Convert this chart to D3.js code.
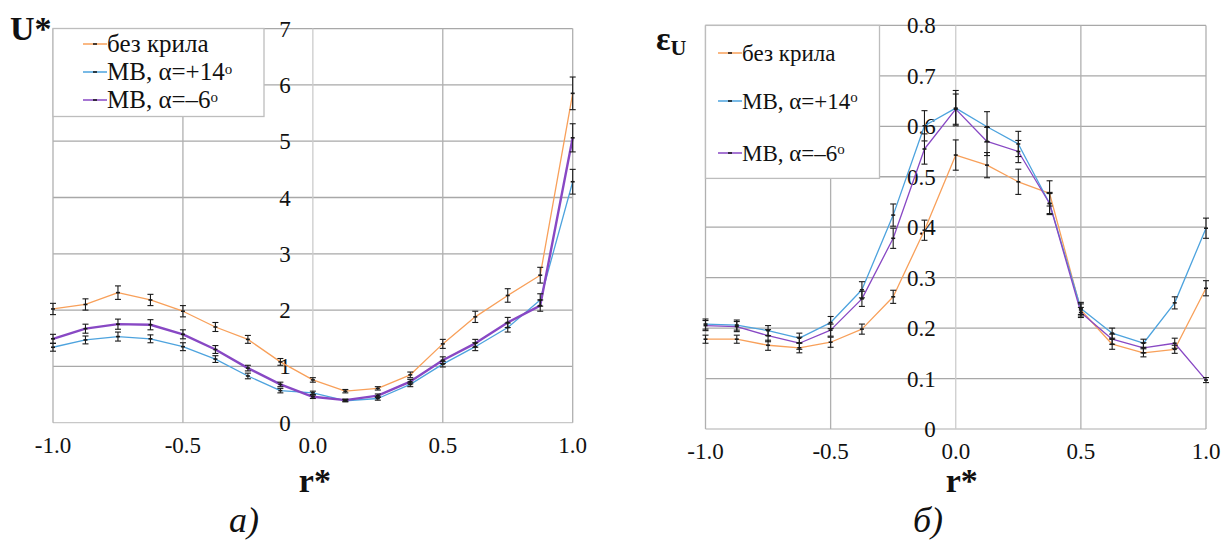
<!DOCTYPE html>
<html><head><meta charset="utf-8">
<script src="https://cdn.jsdelivr.net/npm/d3@7"></script>
<style>
html,body{margin:0;padding:0;background:#fff;}
</style></head>
<body><svg id="c" width="1223" height="541"></svg>
<script>
// ---- data ----
const rValues = [-1,-0.875,-0.75,-0.625,-0.5,-0.375,-0.25,-0.125,0,0.125,0.25,0.375,0.5,0.625,0.75,0.875,1];
const seriesNames = ["без крила","МВ, α=+14","МВ, α=–6"];
const seriesDegree = [false,true,true];
const xTickLabels = ["-1.0","-0.5","0.0","0.5","1.0"];
const xTickValues = [-1,-0.5,0,0.5,1];

// panel a) U*
const uNoWing   = [2.02,2.10,2.31,2.18,1.98,1.70,1.48,1.08,0.76,0.56,0.61,0.85,1.40,1.88,2.26,2.62,5.85];
const uMB14     = [1.34,1.47,1.53,1.49,1.35,1.13,0.83,0.57,0.53,0.39,0.43,0.68,1.04,1.35,1.69,2.18,4.28];
const uMB6      = [1.49,1.67,1.75,1.74,1.57,1.30,0.97,0.68,0.46,0.40,0.48,0.73,1.11,1.41,1.78,2.08,5.06];
const uNoWingErr= [0.10,0.10,0.12,0.10,0.10,0.08,0.07,0.06,0.04,0.03,0.03,0.05,0.08,0.10,0.12,0.14,0.29];
const uMB14Err  = [0.07,0.07,0.08,0.07,0.07,0.06,0.05,0.04,0.03,0.02,0.03,0.04,0.05,0.07,0.08,0.11,0.22];
const uMB6Err   = [0.08,0.08,0.09,0.09,0.08,0.07,0.05,0.04,0.03,0.02,0.03,0.04,0.06,0.07,0.09,0.10,0.25];
const uTicks = [0,1,2,3,4,5,6,7];

// panel б) eps_U
const eNoWing   = [0.178,0.178,0.166,0.161,0.172,0.198,0.262,0.394,0.543,0.523,0.490,0.467,0.236,0.168,0.151,0.158,0.279];
const eMB14     = [0.208,0.206,0.195,0.180,0.211,0.276,0.424,0.601,0.636,0.599,0.565,0.447,0.239,0.190,0.170,0.250,0.398];
const eMB6      = [0.205,0.203,0.185,0.170,0.196,0.258,0.378,0.555,0.634,0.570,0.550,0.447,0.231,0.178,0.161,0.170,0.097];
const eNoWingErr= [0.008,0.008,0.010,0.010,0.010,0.010,0.013,0.020,0.030,0.025,0.025,0.025,0.012,0.010,0.008,0.008,0.015];
const eMB14Err  = [0.010,0.010,0.010,0.010,0.012,0.016,0.022,0.030,0.035,0.030,0.025,0.022,0.012,0.010,0.008,0.012,0.020];
const eMB6Err   = [0.010,0.010,0.012,0.012,0.012,0.015,0.020,0.030,0.030,0.028,0.022,0.020,0.010,0.010,0.010,0.010,0.005];
const eTicks = [0,0.1,0.2,0.3,0.4,0.5,0.6,0.7,0.8];
const eTickLabels = ["0","0.1","0.2","0.3","0.4","0.5","0.6","0.7","0.8"];

const colors = ["#F8A05A","#4DA3DE","#8848C4"];
const SERIF = "'Liberation Serif', 'Times New Roman', serif";

const svg = d3.select("#c");

function panel(opt){
  const g = svg.append("g");
  const x = d3.scaleLinear().domain([-1,1]).range(opt.xr);
  const y = d3.scaleLinear().domain([opt.yTicks[0], opt.yTicks[opt.yTicks.length-1]]).range(opt.yr);
  g.selectAll(".hg").data(opt.yTicks).join("line")
    .attr("x1",x(-1)).attr("x2",x(1)).attr("y1",d=>y(d)).attr("y2",d=>y(d))
    .attr("stroke",(d,i)=>i===0?"#c8c8c8":"#a8a8a8").attr("stroke-width",1.3);
  g.selectAll(".vg").data(xTickValues).join("line")
    .attr("x1",d=>x(d)).attr("x2",d=>x(d)).attr("y1",y.range()[0]).attr("y2",y.range()[1])
    .attr("stroke",d=>d===0?"#cccccc":"#b0b0b0").attr("stroke-width",1.3);
  const lg = g.append("g");
  lg.append("rect").attr("x",opt.leg.x).attr("y",opt.leg.y).attr("width",opt.leg.w).attr("height",opt.leg.h)
    .attr("fill","#fff").attr("stroke","#bdbdbd").attr("stroke-width",1.3);
  g.selectAll(".yl").data(opt.yTicks).join("text")
    .attr("x",x(0)-opt.ylOff).attr("y",d=>y(d)).attr("dy","0.35em")
    .attr("text-anchor","end").attr("font-size",23).style("font-family",SERIF).attr("fill","#111")
    .text((d,i)=>opt.yLabels[i]);
  g.selectAll(".xl").data(xTickValues).join("text")
    .attr("x",d=>x(d)).attr("y",y.range()[0]+30)
    .attr("text-anchor","middle").attr("font-size",23).style("font-family",SERIF).attr("fill","#111")
    .text((d,i)=>xTickLabels[i]);
  const line = d3.line().x((d,i)=>x(rValues[i])).y(d=>y(d));
  opt.series.forEach((s,k)=>{
    g.append("path").datum(s).attr("d",line).attr("fill","none")
      .attr("stroke",colors[k]).attr("stroke-width",opt.widths[k]).attr("stroke-linejoin","round");
  });
  opt.series.forEach((s,k)=>{
    const err = opt.errs[k];
    const eg = g.append("g").attr("stroke","#1a1a1a").attr("stroke-width",1.1);
    s.forEach((v,i)=>{
      const cx = x(rValues[i]);
      eg.append("line").attr("x1",cx).attr("x2",cx).attr("y1",y(v-err[i])).attr("y2",y(v+err[i]));
      eg.append("line").attr("x1",cx-3).attr("x2",cx+3).attr("y1",y(v-err[i])).attr("y2",y(v-err[i]));
      eg.append("line").attr("x1",cx-3).attr("x2",cx+3).attr("y1",y(v+err[i])).attr("y2",y(v+err[i]));
      eg.append("line").attr("x1",cx-2).attr("x2",cx+2).attr("y1",y(v)).attr("y2",y(v)).attr("stroke-width",1.6);
    });
  });
  seriesNames.forEach((n,k)=>{
    const ly = opt.leg.items[k];
    lg.append("line").attr("x1",opt.leg.sx).attr("x2",opt.leg.sx+24).attr("y1",ly).attr("y2",ly)
      .attr("stroke",colors[k]).attr("stroke-width",1.5);
    lg.append("line").attr("x1",opt.leg.sx+10).attr("x2",opt.leg.sx+14).attr("y1",ly).attr("y2",ly)
      .attr("stroke","#111").attr("stroke-width",1.5);
    const t = lg.append("text").attr("x",opt.leg.sx+24).attr("y",ly).attr("dy","0.33em")
      .attr("font-size",opt.leg.fs).style("font-family",SERIF).attr("fill","#111").text(n);
    if(seriesDegree[k]) t.append("tspan").attr("font-size",15).attr("dy","-0.45em").text("o");
  });
  return {x,y};
}

const A = panel({
  xr:[53,572.7], yr:[422.7,28.6], yTicks:uTicks, yLabels:uTicks.map(String), ylOff:22,
  series:[uNoWing,uMB14,uMB6], errs:[uNoWingErr,uMB14Err,uMB6Err], widths:[1.3,1.3,2.4],
  leg:{x:53,y:28.5,w:211,h:88,sx:83,items:[44,72,100],fs:25}
});
const B = panel({
  xr:[705.5,1206], yr:[429,25.4], yTicks:eTicks, yLabels:eTickLabels, ylOff:20,
  series:[eNoWing,eMB14,eMB6], errs:[eNoWingErr,eMB14Err,eMB6Err], widths:[1.3,1.3,1.3],
  leg:{x:705.5,y:25.4,w:174,h:153,sx:718,items:[53,101,153],fs:23}
});

function txt(x,y,size,s){
  return svg.append("text").attr("x",x).attr("y",y).attr("font-size",size)
    .style("font-family",SERIF).attr("fill","#111").text(s);
}
txt(10,40,34,"U*").attr("font-weight","bold");
const eps = txt(656,50,34,"").attr("font-weight","bold");
eps.append("tspan").text("ε");
eps.append("tspan").attr("font-size",22).attr("dy","5").text("U");
txt(A.x(0)+2,492,34,"r*").attr("text-anchor","middle").attr("font-weight","bold");
txt(B.x(0)+6,492,34,"r*").attr("text-anchor","middle").attr("font-weight","bold");
txt(244,532,36,"а)").attr("text-anchor","middle").attr("font-style","italic");
txt(928,532,36,"б)").attr("text-anchor","middle").attr("font-style","italic");
</script></body></html>
